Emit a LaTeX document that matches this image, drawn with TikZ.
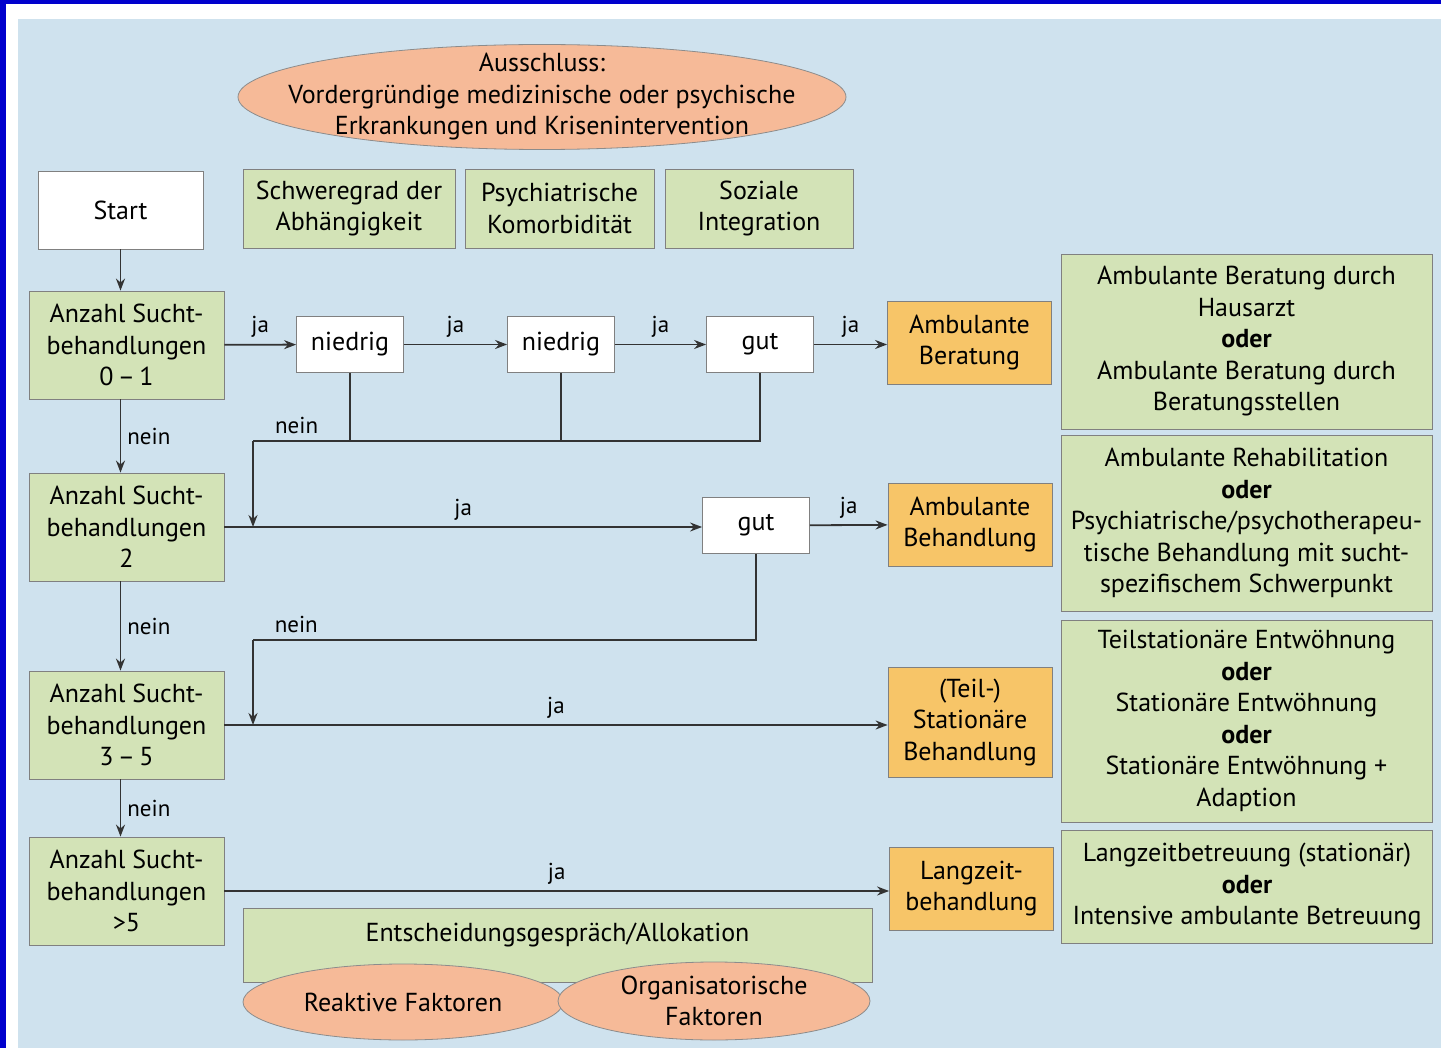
\documentclass[tikz,border=0pt]{standalone}
\usepackage{fontspec}
\setmainfont{PT Sans}
\usetikzlibrary{positioning,shapes.geometric,arrows.meta}
\definecolor{frameblue}{RGB}{0,0,205}
\definecolor{bgblue}{RGB}{207,226,238}
\definecolor{boxgreen}{RGB}{211,227,183}
\definecolor{boxorange}{RGB}{247,197,104}
\definecolor{ovalsalmon}{RGB}{246,186,152}
\tikzset{
    box/.style={draw=black!50, thin, align=center, inner sep=1pt,
        font=\fontsize{13}{15.75}\selectfont},
    greenbox/.style={box, fill=boxgreen},
    whitebox/.style={box, fill=white},
    orangebox/.style={box, fill=boxorange},
    oval/.style={ellipse, draw=black!45, thin, fill=ovalsalmon, inner sep=0pt},
    ovaltext/.style={align=center, font=\fontsize{13}{15.75}\selectfont},
    bus/.style={draw=black!80, line width=0.9pt},
    flow/.style={bus, -{Stealth[length=6pt,width=4.5pt]}},
    answer/.style={font=\fontsize{11.5}{13}\selectfont, inner sep=3pt}
}

\begin{document}
\begin{tikzpicture}[x=0.5pt, y=-0.5pt]
\tikzstyle{countbox}=[greenbox, minimum width=97.5pt, minimum height=54pt]
\tikzstyle{testbox}=[whitebox, minimum width=53.5pt, minimum height=28pt]
\tikzstyle{resultbox}=[orangebox, minimum width=82pt, minimum height=41.5pt]
\tikzstyle{optionbox}=[greenbox, minimum width=185.5pt]

\useasboundingbox (0,0) rectangle (1441,1048);
\fill[frameblue] (0,0) rectangle (1441,1048);
\fill[white] (6,4) rectangle (1441,1048);
\fill[bgblue] (18,19) rectangle (1441,1048);

\node[oval, minimum width=304pt, minimum height=52.5pt] (excl) at (542,97) {};
\node[ovaltext] (excltext) at (excl) {Ausschluss:\\Vordergründige medizinische oder psychische\\Erkrankungen und Krisenintervention};

\node[whitebox, minimum width=82.5pt, minimum height=39pt] (start) at (120.5,210) {Start};
\node[greenbox, minimum width=106pt, minimum height=39.5pt] (severity) at (349,208.5) {Schweregrad der\\Abhängigkeit};
\node[greenbox, minimum width=94.5pt, minimum height=39.5pt] (comorb) at (559.5,208.5) {Psychiatrische\\Komorbidität};
\node[greenbox, minimum width=94pt, minimum height=39.5pt] (social) at (759,208.5) {Soziale\\Integration};

\node[countbox] (count1) at (126.5,345) {Anzahl Sucht-\\behandlungen\\0\,--\,1};
\node[countbox] (count2) at (126.5,527) {Anzahl Sucht-\\behandlungen\\2};
\node[countbox] (count3) at (126.5,725) {Anzahl Sucht-\\behandlungen\\3\,--\,5};
\node[countbox] (count4) at (126.5,891) {Anzahl Sucht-\\behandlungen\\>5};

\node[testbox] (low1) at (350,344.5) {niedrig};
\node[testbox] (low2) at (561,344.5) {niedrig};
\node[testbox] (good1) at (760,344.5) {gut};
\node[testbox] (good2) at (756,525.5) {gut};

\node[resultbox] (result1) at (969.5,342.5) {Ambulante\\Beratung};
\node[resultbox] (result2) at (970,524.5) {Ambulante\\Behandlung};
\node[resultbox, minimum height=55pt] (result3) at (970,722) {(Teil-)\\Stationäre\\Behandlung};
\node[resultbox] (result4) at (971.5,888.5) {Langzeit-\\behandlung};

\node[optionbox, minimum height=87.5pt] (option1) at (1246.5,341.5) {Ambulante Beratung durch\\Hausarzt\\\textbf{oder}\\Ambulante Beratung durch\\Beratungsstellen};
\node[optionbox, minimum height=88pt] (option2) at (1246.5,523) {Ambulante Rehabilitation\\\textbf{oder}\\Psychiatrische/psychotherapeu-\\tische Behandlung mit sucht-\\spezifischem Schwerpunkt};
\node[optionbox, minimum height=101pt] (option3) at (1246.5,721) {Teilstationäre Entwöhnung\\\textbf{oder}\\Stationäre Entwöhnung\\\textbf{oder}\\Stationäre Entwöhnung +\\Adaption};
\node[optionbox, minimum height=56.5pt] (option4) at (1247,886.5) {Langzeitbetreuung (stationär)\\\textbf{oder}\\Intensive ambulante Betreuung};

\node[greenbox, minimum width=314.5pt, minimum height=37pt] (alloc) at (557.5,945) {};
\node[ovaltext] (alloctext) at (557.5,935) {Entscheidungsgespräch/Allokation};
\node[oval, minimum width=160pt, minimum height=38pt] (reactive) at (403,1002) {};
\node[ovaltext] at (reactive) {Reaktive Faktoren};
\node[oval, minimum width=156pt, minimum height=39pt] (organis) at (714,1001) {};
\node[ovaltext] at (organis) {Organisatorische\\Faktoren};

\draw[flow] (start.south) -- (start.south |- count1.north);
\draw[flow] ([xshift=-3pt]count1.south) -- node[answer, right] {nein} ([xshift=-3pt]count2.north);
\draw[flow] ([xshift=-3pt]count2.south) -- node[answer, right] {nein} ([xshift=-3pt]count3.north);
\draw[flow] ([xshift=-3pt]count3.south) -- node[answer, right] {nein} ([xshift=-3pt]count4.north);

\draw[flow] (count1) -- node[answer, above] {ja} (low1);
\draw[flow] (low1) -- node[answer, above] {ja} (low2);
\draw[flow] (low2) -- node[answer, above] {ja} (good1);
\draw[flow] (good1.east) -- node[answer, above] {ja} (good1.east -| result1.west);

\coordinate (bus1) at (253,441);
\draw[bus] (good1.south) |- node[answer, above, pos=0.957] {nein} (bus1);
\draw[bus] (low1.south) -- (low1.south |- bus1);
\draw[bus] (low2.south) -- (low2.south |- bus1);
\draw[flow] (bus1) -- (bus1 |- count2.east);

\draw[flow] (count2.east) -- node[answer, above] {ja} (count2.east -| good2.west);
\draw[flow] (good2) -- node[answer, above] {ja} (result2);

\coordinate (bus2) at (253,640);
\draw[bus] (good2.south) |- node[answer, above, pos=0.957] {nein} (bus2);
\draw[flow] (bus2) -- (bus2 |- count3.east);

\draw[flow] (count3.east) -- node[answer, above] {ja} (count3.east -| result3.west);
\draw[flow] (count4.east) -- node[answer, above] {ja} (count4.east -| result4.west);
\end{tikzpicture}
\end{document}
